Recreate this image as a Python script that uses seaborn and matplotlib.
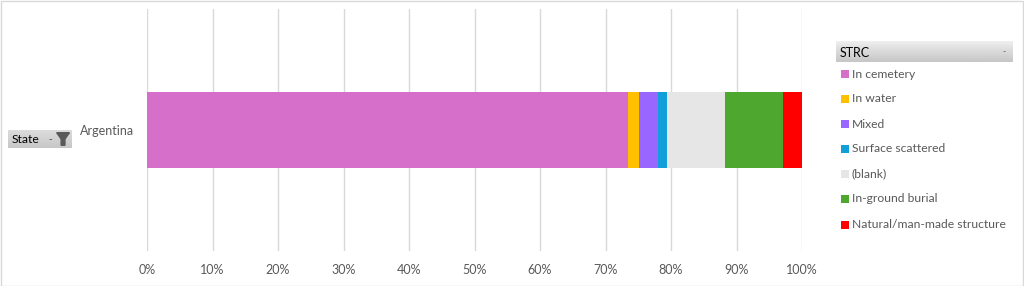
import numpy as np
import pandas as pd
import matplotlib
matplotlib.use("Agg")
import matplotlib.pyplot as plt
import seaborn as sns
from matplotlib.patches import Rectangle
from matplotlib.ticker import PercentFormatter

# ---- data ----
state = ["Argentina"]
categories = ["In cemetery", "In water", "Mixed", "Surface scattered",
              "(blank)", "In-ground burial", "Natural/man-made structure"]
shares = [73.5, 1.55, 2.9, 1.5, 8.8, 8.9, 2.85]
colors = ["#d66fc9", "#ffc000", "#9966ff", "#109fd8",
          "#e6e6e6", "#4ea72e", "#ff0000"]
tick_values = [0, 10, 20, 30, 40, 50, 60, 70, 80, 90, 100]

sns.set_theme(style="white")
plt.rcParams['font.family'] = ['Lato', 'DejaVu Sans']
text_color = "#595959"

W, H = 1024, 286
fig = plt.figure(figsize=(W / 100, H / 100), dpi=100)
ax = fig.add_axes([147 / W, 1 - 251 / H, (802 - 147) / W, (251 - 9) / H])

cum = np.cumsum(shares)
for i in range(len(categories) - 1, -1, -1):
    df = pd.DataFrame({"State": state, "value": [cum[i]]})
    sns.barplot(data=df, x="value", y="State", color=colors[i],
                width=0.314, linewidth=0, saturation=1, ax=ax, orient="h")

ax.set_xlim(0, 100)
ax.set_ylim(0.5, -0.5)
ax.set_xticks(tick_values)
ax.xaxis.set_major_formatter(PercentFormatter(decimals=0))
ax.grid(axis="x", color="#d9d9d9", linewidth=1)
ax.set_axisbelow(True)
for s in ax.spines.values():
    s.set_visible(False)
ax.set_xlabel("")
ax.set_ylabel("")
ax.tick_params(axis="x", colors=text_color, labelsize=9, length=0, pad=9.5)
ax.tick_params(axis="y", colors=text_color, labelsize=9, length=0, pad=9.5)

# figure border
fig.patches.append(Rectangle((0.5 / W, 0.5 / H), 1 - 1.5 / W, 1 - 1.5 / H,
                             transform=fig.transFigure, fill=False,
                             edgecolor="#d9d9d9", linewidth=1))

# "State" field button
bax = fig.add_axes([8 / W, 1 - 148 / H, 64 / W, 18 / H])
grad = np.linspace(0.86, 0.78, 20).reshape(-1, 1)
bax.imshow(grad, cmap="gray", vmin=0, vmax=1, aspect="auto", extent=[0, 1, 0, 1])
bax.set_axis_off()
bax.text(0.06, 0.45, "State", fontsize=8.7, color="black", va="center", ha="left")
bax.text(0.63, 0.45, "-", fontsize=7, color="#404040", va="center", ha="left")
bax.fill([0.76, 0.96, 0.89, 0.89, 0.83, 0.83], [0.85, 0.85, 0.5, 0.15, 0.15, 0.5],
         color="#5a5a5a")
bax.set_xlim(0, 1); bax.set_ylim(0, 1)

# legend title bar "STRC"
lax = fig.add_axes([836 / W, 1 - 62 / H, (1013 - 836) / W, 21 / H])
lax.imshow(np.linspace(0.93, 0.78, 20).reshape(-1, 1), cmap="gray", vmin=0, vmax=1,
           aspect="auto", extent=[0, 1, 0, 1])
lax.set_axis_off()
lax.set_xlim(0, 1); lax.set_ylim(0, 1)
lax.text(0.02, 0.45, "STRC", fontsize=9, color="black", va="center", ha="left")
lax.text(0.95, 0.5, "-", fontsize=6, color="#404040", va="center", ha="center")

# legend entries
ys = [74, 99, 124, 149, 174, 199, 225]
for lab, col, y in zip(categories, colors, ys):
    fig.patches.append(Rectangle((841 / W, 1 - (y + 4) / H), 8 / W, 8 / H,
                                 transform=fig.transFigure, facecolor=col,
                                 edgecolor="none"))
    fig.text(852 / W, 1 - y / H, lab, fontsize=8.7, color=text_color,
             va="center", ha="left")

fig.savefig("out.png", dpi=100)
